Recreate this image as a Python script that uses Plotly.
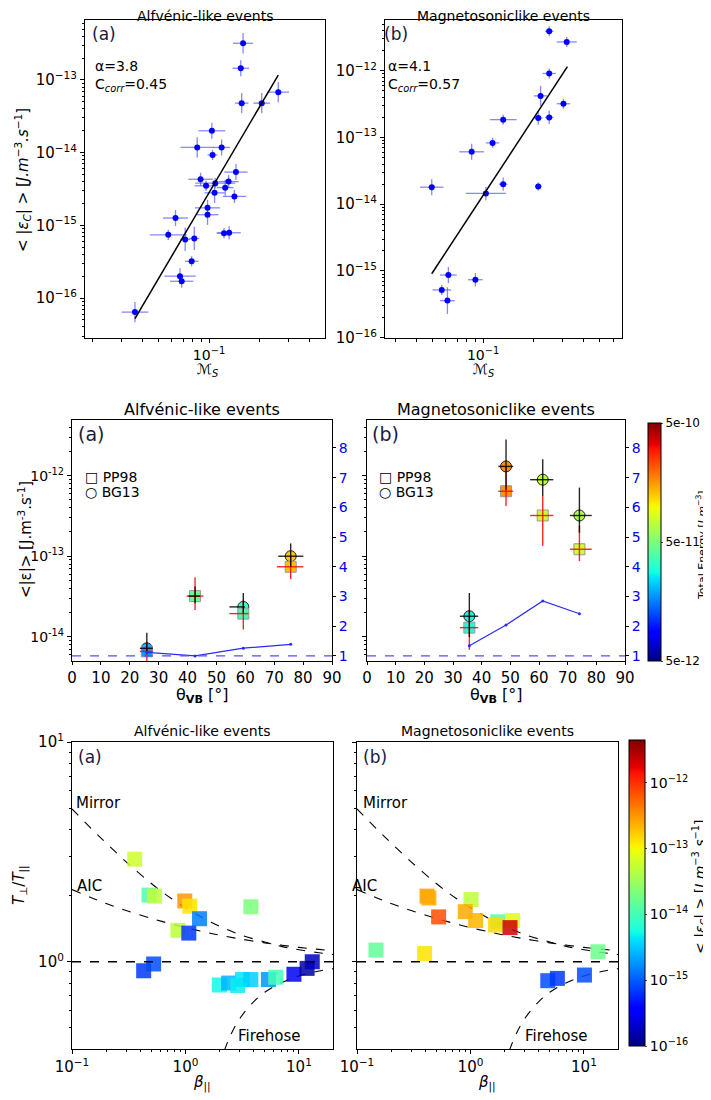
import numpy as np
import plotly.graph_objects as go

# The page body has an 8px margin; the figure is sized/offset so that it fills the window.
OFF = 8
W, H = 711 - OFF, 1100 - OFF

# ---------------- DATA ----------------
# Top row (a): Alfvenic-like events
ms_a = [0.036, 0.067, 0.0686, 0.0787, 0.057, 0.063, 0.072, 0.0816, 0.098, 0.098, 0.123, 0.132,
        0.089, 0.096, 0.108, 0.109, 0.125, 0.131, 0.142, 0.145, 0.085, 0.119, 0.105, 0.104,
        0.157, 0.155, 0.160, 0.207, 0.260]
eps_a = [6.4e-17, 2.0e-16, 1.7e-16, 3.2e-16, 7.4e-16, 1.26e-15, 6.4e-16, 6.6e-16, 1.4e-15, 1.74e-15,
         7.8e-16, 7.9e-16, 4.3e-15, 3.5e-15, 2.8e-15, 3.8e-15, 3.3e-15, 4.0e-15, 2.5e-15, 5.4e-15,
         1.18e-14, 1.18e-14, 9.3e-15, 2.0e-14, 4.8e-14, 1.45e-13, 3.2e-13, 4.8e-14, 6.8e-14]
ms_a_err_dec = [0.08, 0.094, 0.07, 0.04, 0.11, 0.075, 0.03, 0.03, 0.065, 0.075, 0.045, 0.07, 0.073,
                0.07, 0.06, 0.12, 0.05, 0.06, 0.07, 0.07, 0.10, 0.05, 0.03, 0.08, 0.04, 0.05, 0.06,
                0.05, 0.065]
eps_a_err_dec = [0.14, 0.11, 0.09, 0.07, 0.07, 0.11, 0.16, 0.16, 0.14, 0.11, 0.07, 0.09, 0.09, 0.07,
                 0.14, 0.07, 0.11, 0.09, 0.09, 0.11, 0.14, 0.11, 0.07, 0.11, 0.14, 0.11, 0.14, 0.14,
                 0.14]
fit_a_x = [0.036, 0.26]
fit_a_y = [5.2e-17, 1.17e-13]

# Top row (b): Magnetosoniclike events
ms_b = [0.0493, 0.0566, 0.062, 0.0612, 0.090, 0.0855, 0.114, 0.132, 0.104, 0.132, 0.214, 0.214,
        0.249, 0.221, 0.249, 0.303, 0.249, 0.317]
eps_b = [1.8e-14, 5.2e-16, 8.7e-16, 3.6e-16, 7.4e-16, 6.1e-14, 8.3e-14, 1.85e-13, 1.45e-14, 2.0e-14,
         1.85e-14, 1.96e-13, 2.0e-13, 4.2e-13, 9.1e-13, 3.2e-13, 3.9e-12, 2.7e-12]
ms_b_err_dec = [0.07, 0.056, 0.05, 0.044, 0.044, 0.074, 0.04, 0.08, 0.12, 0.025, 0.02, 0.025, 0.025,
                0.04, 0.04, 0.04, 0.025, 0.06]
eps_b_err_dec = [0.12, 0.075, 0.12, 0.2, 0.1, 0.12, 0.075, 0.075, 0.1, 0.1, 0.06, 0.1, 0.1, 0.15,
                 0.075, 0.075, 0.075, 0.075]
fit_b_x = [0.0493, 0.320]
fit_b_y = [9.1e-16, 1.15e-12]

# Middle row (a)
theta_a = [25.9, 42.6, 59.3, 75.7]
pp98_a = [6.6e-15, 3.2e-14, 1.94e-14, 7.4e-14]
pp98_a_lo = [5.0e-15, 2.15e-14, 1.23e-14, 5.2e-14]
pp98_a_hi = [8.7e-15, 5.5e-14, 2.9e-14, 1.02e-13]
pp98_a_th_lo = [23.5, 39.7, 54.5, 70.9]
pp98_a_th_hi = [28.0, 45.5, 61.1, 80.1]
bg13_a = [7.2e-15, 3.2e-14, 2.35e-14, 1.0e-13]
bg13_a_lo = [6.3e-15, 2.6e-14, 1.95e-14, 7.4e-14]
bg13_a_hi = [1.12e-14, 4.2e-14, 3.5e-14, 1.44e-13]
bg13_a_th_lo = [23.5, 40.3, 54.5, 71.4]
bg13_a_th_hi = [28.0, 44.3, 59.9, 80.1]
etot_pp98_a = [1.82e-11, 4.4e-11, 3.6e-11, 1.3e-10]
etot_bg13_a = [2.0e-11, 4.4e-11, 3.5e-11, 1.26e-10]
ratio_line_a = [1.12, 1.0, 1.26, 1.39]

# Middle row (b)
theta_b = [35.7, 48.5, 61.3, 74.1]
pp98_b = [1.3e-14, 6.4e-13, 3.2e-13, 1.22e-13]
pp98_b_lo = [6.9e-15, 4.2e-13, 1.35e-13, 8.7e-14]
pp98_b_hi = [2.15e-14, 1.3e-12, 5.6e-13, 2.4e-13]
bg13_b = [1.8e-14, 1.3e-12, 8.9e-13, 3.2e-13]
bg13_b_lo = [1.0e-14, 6.7e-13, 5.6e-13, 1.95e-13]
bg13_b_hi = [3.5e-14, 2.8e-12, 1.6e-12, 7.1e-13]
th_b_lo = [32.4, 45.8, 56.9, 70.8]
th_b_hi = [38.8, 51.0, 65.0, 78.4]
etot_pp98_b = [2.9e-11, 1.6e-10, 7.5e-11, 7.9e-11]
etot_bg13_b = [2.75e-11, 1.65e-10, 7.2e-11, 6.6e-11]
ratio_line_b = [1.34, 2.04, 2.85, 2.42]

# Bottom row (a)
beta_a = [0.357, 0.477, 0.535, 0.986, 1.09, 1.33, 0.857, 1.07, 3.77, 0.428, 0.524, 1.99, 2.40,
          2.88, 3.18, 3.77, 5.38, 6.24, 9.03, 11.8, 13.1]
tratio_a = [2.93, 2.01, 1.99, 1.89, 1.79, 1.57, 1.39, 1.35, 1.78, 0.91, 0.977, 0.784, 0.80, 0.78,
            0.83, 0.83, 0.83, 0.85, 0.877, 0.933, 1.0]
epsc_a = [6.2e-14, 1.2e-14, 5.0e-14, 3.1e-13, 1.3e-13, 1.45e-15, 5.0e-14, 6.9e-16, 2.1e-14,
          6.9e-16, 8.5e-16, 5.2e-15, 2.5e-15, 4.7e-15, 4.2e-15, 3.4e-15, 1.8e-15, 1.0e-14,
          2.9e-16, 1.4e-16, 1.9e-16]

# Bottom row (b)
beta_b = [0.147, 0.394, 0.414, 0.43, 0.524, 1.01, 0.90, 1.11, 1.74, 2.35, 1.66, 2.23, 13.3, 4.8,
          5.83, 10.1]
tratio_b = [1.13, 1.09, 1.99, 1.95, 1.60, 1.92, 1.69, 1.54, 1.52, 1.54, 1.47, 1.43, 1.11, 0.82,
            0.84, 0.87]
epsc_b = [1.5e-14, 1.3e-13, 2.8e-13, 2.5e-13, 7.2e-13, 5.0e-14, 2.5e-13, 2.2e-13, 1.2e-14,
          7.6e-14, 1.45e-13, 2.1e-12, 1.7e-14, 8.5e-16, 6.9e-16, 8.5e-16]

# Instability thresholds
mirror_beta = [0.1, 0.15, 0.2, 0.3, 0.5, 0.7, 1, 1.5, 2, 3, 5, 7, 10, 15, 20]
mirror_ratio = [4.96, 4.01, 3.47, 2.85, 2.27, 1.99, 1.76, 1.56, 1.45, 1.33, 1.23, 1.175, 1.134,
                1.098, 1.079]
aic_beta = [0.1, 0.15, 0.2, 0.3, 0.5, 0.7, 1, 1.5, 2, 3, 5, 7, 10, 15, 20]
aic_ratio = [2.13, 1.95, 1.84, 1.71, 1.575, 1.50, 1.43, 1.363, 1.321, 1.271, 1.219, 1.190, 1.163,
             1.138, 1.122]
fh_beta = [2.2, 2.5, 3, 4, 5, 7, 10, 15, 20]
fh_ratio = [0.394, 0.464, 0.550, 0.659, 0.726, 0.803, 0.862, 0.907, 0.930]

# ---------------- HELPERS ----------------
FONT = "DejaVu Sans"


def px(x):
    return (x - OFF) / W


def py(y):
    return 1 - (y - OFF) / H


def jet_scale():
    r = [(0, 0), (0.35, 0), (0.66, 1), (0.89, 1), (1, 0.5)]
    g = [(0, 0), (0.125, 0), (0.375, 1), (0.64, 1), (0.91, 0), (1, 0)]
    b = [(0, 0.5), (0.11, 1), (0.34, 1), (0.65, 0), (1, 0)]
    stops = sorted({p for seg in (r, g, b) for p, _ in seg})
    out = []
    for s in stops:
        ch = [np.interp(s, [p for p, _ in seg], [v for _, v in seg]) for seg in (r, g, b)]
        out.append([s, "rgb(%d,%d,%d)" % tuple(int(round(c * 255)) for c in ch)])
    return out


JET = jet_scale()


def log_err(v, d):
    v = np.array(v)
    d = np.array(d)
    return v * (10 ** d - 1), v * (1 - 10 ** (-d))


def sup(e):
    return "10<sup>%s</sup>" % (str(e).replace("-", "\u2212"))


def minor_vals(e0, e1):
    return [m * 10.0 ** e for e in range(e0, e1) for m in range(2, 10)]


fig = go.Figure()

# ---------------- TOP ROW ----------------
EB_COL = "rgba(70,70,255,0.65)"
for (xs, ys, dx, dy, fx, fy, xa, ya) in [
        (ms_a, eps_a, ms_a_err_dec, eps_a_err_dec, fit_a_x, fit_a_y, "x", "y"),
        (ms_b, eps_b, ms_b_err_dec, eps_b_err_dec, fit_b_x, fit_b_y, "x2", "y2")]:
    xp, xm = log_err(xs, dx)
    yp, ym = log_err(ys, dy)
    fig.add_trace(go.Scatter(
        x=xs, y=ys, mode="markers", xaxis=xa, yaxis=ya, showlegend=False,
        marker=dict(color="#0000ff", size=6),
        error_x=dict(type="data", symmetric=False, array=xp, arrayminus=xm,
                     color=EB_COL, thickness=1.3, width=0),
        error_y=dict(type="data", symmetric=False, array=yp, arrayminus=ym,
                     color=EB_COL, thickness=1.3, width=0)))
    fig.add_trace(go.Scatter(x=fx, y=fy, mode="lines", xaxis=xa, yaxis=ya, showlegend=False,
                             line=dict(color="black", width=1.5)))

# ---------------- MIDDLE ROW ----------------
mid_sets = [
    (theta_a, pp98_a, pp98_a_lo, pp98_a_hi, pp98_a_th_lo, pp98_a_th_hi,
     bg13_a, bg13_a_lo, bg13_a_hi, bg13_a_th_lo, bg13_a_th_hi,
     etot_pp98_a, etot_bg13_a, ratio_line_a, "x3", "y3", "y5"),
    (theta_b, pp98_b, pp98_b_lo, pp98_b_hi, th_b_lo, th_b_hi,
     bg13_b, bg13_b_lo, bg13_b_hi, th_b_lo, th_b_hi,
     etot_pp98_b, etot_bg13_b, ratio_line_b, "x4", "y4", "y6"),
]
for (th, pv, plo, phi, ptl, pth, bv, blo, bhi, btl, bth, ep, eb, rl, xa, ya, yr) in mid_sets:
    th_arr = np.array(th)
    fig.add_trace(go.Scatter(x=th, y=rl, mode="lines+markers", xaxis=xa, yaxis=yr,
                             showlegend=False, line=dict(color="#2a2aff", width=1.2),
                             marker=dict(size=3, color="#2a2aff")))
    fig.add_trace(go.Scatter(x=th, y=bv, mode="markers", xaxis=xa, yaxis=ya, showlegend=False,
                             marker=dict(symbol="circle", size=11, color=np.log10(eb),
                                         coloraxis="coloraxis",
                                         line=dict(color="#222222", width=1))))
    fig.add_trace(go.Scatter(x=th, y=pv, mode="markers", xaxis=xa, yaxis=ya, showlegend=False,
                             marker=dict(symbol="square", size=11, color=np.log10(ep),
                                         coloraxis="coloraxis",
                                         line=dict(color="#999999", width=1))))
    for (vals, lo, hi, tl, tt, col) in [(pv, plo, phi, ptl, pth, "rgba(255,0,0,0.85)"),
                                        (bv, blo, bhi, btl, bth, "rgba(0,0,0,0.85)")]:
        v = np.array(vals)
        fig.add_trace(go.Scatter(
            x=th, y=vals, mode="markers", xaxis=xa, yaxis=ya, showlegend=False,
            marker=dict(size=2, color="rgba(0,0,0,0)"),
            error_y=dict(type="data", symmetric=False, array=np.array(hi) - v,
                         arrayminus=v - np.array(lo), color=col, thickness=1.4, width=0),
            error_x=dict(type="data", symmetric=False, array=np.array(tt) - th_arr,
                         arrayminus=th_arr - np.array(tl), color=col, thickness=1.4, width=0)))

# ---------------- BOTTOM ROW ----------------
for (bx, by, ec, xa, ya) in [(beta_a, tratio_a, epsc_a, "x7", "y7"),
                             (beta_b, tratio_b, epsc_b, "x8", "y8")]:
    for (cx, cy) in [(mirror_beta, mirror_ratio), (aic_beta, aic_ratio), (fh_beta, fh_ratio)]:
        fig.add_trace(go.Scatter(x=cx, y=cy, mode="lines", xaxis=xa, yaxis=ya, showlegend=False,
                                 line=dict(color="black", width=1.1, dash="dash", shape="spline")))
    fig.add_trace(go.Scatter(x=bx, y=by, mode="markers", xaxis=xa, yaxis=ya, showlegend=False,
                             marker=dict(symbol="square", size=15, color=np.log10(ec),
                                         coloraxis="coloraxis2", opacity=0.85,
                                         line=dict(width=0))))

# ---------------- AXES ----------------
base = dict(showgrid=False, zeroline=False, showline=True, mirror=True, linecolor="black",
            linewidth=1.2, ticks="outside", ticklen=4, tickcolor="black", automargin=False,
            tickfont=dict(family=FONT, size=14, color="black"))


def ax(**kw):
    d = dict(base)
    d.update(kw)
    return d


def minor(vals, ln=2):
    return dict(tickmode="array", tickvals=vals, ticks="outside", ticklen=ln, tickcolor="black",
                showgrid=False)


top_y_vals_a = [1e-16, 1e-15, 1e-14, 1e-13]
top_y_vals_b = [1e-16, 1e-15, 1e-14, 1e-13, 1e-12]
mid_y_vals = [1e-14, 1e-13, 1e-12]
layout_axes = dict(
    xaxis=ax(domain=[px(85), px(325)], type="log", range=[-1.743, -0.305], anchor="y",
             tickmode="array", tickvals=[0.1], ticktext=[sup(-1)],
             minor=minor([v for v in minor_vals(-2, 0) if v < 0.6], 3)),
    yaxis=ax(domain=[py(338), py(20)], type="log", range=[-16.55, -12.175], anchor="x",
             tickmode="array", tickvals=top_y_vals_a, ticktext=[sup(-16), sup(-15), sup(-14), sup(-13)],
             tickfont=dict(family=FONT, size=15, color="black"),
             minor=minor(minor_vals(-17, -12), 2)),
    xaxis2=ax(domain=[px(385), px(622)], type="log", range=[-1.587, -0.168], anchor="y2",
              tickmode="array", tickvals=[0.1], ticktext=[sup(-1)],
              minor=minor([v for v in minor_vals(-2, 0) if v < 0.7], 3)),
    yaxis2=ax(domain=[py(338), py(20)], type="log", range=[-16.004, -11.24], anchor="x2",
              tickmode="array", tickvals=top_y_vals_b,
              ticktext=[sup(-16), sup(-15), sup(-14), sup(-13), sup(-12)],
              tickfont=dict(family=FONT, size=15, color="black"),
              minor=minor(minor_vals(-16, -11), 2)),
    xaxis3=ax(domain=[px(72), px(332)], range=[0, 90], anchor="y3", tickmode="array", ticklen=3,
              tickvals=list(range(0, 91, 10)), tickfont=dict(family=FONT, size=15, color="black")),
    yaxis3=ax(domain=[py(661), py(420)], type="log", range=[-14.30, -11.31], anchor="x3",
              tickmode="array", tickvals=mid_y_vals,
              ticktext=["10<sup>-14</sup>", "10<sup>-13</sup>", "10<sup>-12</sup>"],
              tickfont=dict(family=FONT, size=14, color="black"),
              minor=minor(minor_vals(-15, -11), 2)),
    xaxis4=ax(domain=[px(367), px(625)], range=[0, 90], anchor="y4", tickmode="array", ticklen=3,
              tickvals=list(range(0, 91, 10)), tickfont=dict(family=FONT, size=15, color="black")),
    yaxis4=ax(domain=[py(661), py(420)], type="log", range=[-14.30, -11.31], anchor="x4",
              tickmode="array", tickvals=mid_y_vals, showticklabels=False,
              minor=minor(minor_vals(-15, -11), 2)),
    yaxis5=dict(overlaying="y3", anchor="x3", side="right", range=[0.83, 8.94], showgrid=False,
                zeroline=False, showline=False, ticks="outside", ticklen=3, tickcolor="black",
                tickmode="array", tickvals=list(range(1, 9)), automargin=False,
                tickfont=dict(family=FONT, size=14, color="#0000ff")),
    yaxis6=dict(overlaying="y4", anchor="x4", side="right", range=[0.83, 8.94], showgrid=False,
                zeroline=False, showline=False, ticks="outside", ticklen=3, tickcolor="black",
                tickmode="array", tickvals=list(range(1, 9)), automargin=False,
                tickfont=dict(family=FONT, size=14, color="#0000ff")),
    xaxis7=ax(domain=[px(72), px(333)], type="log", range=[-1, 1.30], anchor="y7",
              tickmode="array", tickvals=[0.1, 1, 10], ticktext=[sup(-1), sup(0), sup(1)],
              tickfont=dict(family=FONT, size=15, color="black"),
              minor=minor([v for v in minor_vals(-1, 2) if v < 20], 2)),
    yaxis7=ax(domain=[py(1049), py(742)], type="log", range=[-0.397, 1], anchor="x7",
              tickmode="array", tickvals=[1, 10], ticktext=[sup(0), sup(1)],
              tickfont=dict(family=FONT, size=15, color="black"),
              minor=minor([v for v in minor_vals(-1, 1) if v > 0.39], 2)),
    xaxis8=ax(domain=[px(357), px(618)], type="log", range=[-1, 1.30], anchor="y8",
              tickmode="array", tickvals=[0.1, 1, 10], ticktext=[sup(-1), sup(0), sup(1)],
              tickfont=dict(family=FONT, size=15, color="black"),
              minor=minor([v for v in minor_vals(-1, 2) if v < 20], 2)),
    yaxis8=ax(domain=[py(1049), py(742)], type="log", range=[-0.397, 1], anchor="x8",
              tickmode="array", tickvals=[1, 10], showticklabels=False,
              minor=minor([v for v in minor_vals(-1, 1) if v > 0.39], 2)),
)

shapes = [
    dict(type="line", xref="x3 domain", x0=0, x1=1, yref="y5", y0=1, y1=1,
         line=dict(color="#5050ff", width=1.2, dash="dash")),
    dict(type="line", xref="x4 domain", x0=0, x1=1, yref="y6", y0=1, y1=1,
         line=dict(color="#5050ff", width=1.2, dash="dash")),
    dict(type="line", xref="x7 domain", x0=0, x1=1, yref="y7", y0=1, y1=1,
         line=dict(color="black", width=1.6, dash="dash")),
    dict(type="line", xref="x8 domain", x0=0, x1=1, yref="y8", y0=1, y1=1,
         line=dict(color="black", width=1.6, dash="dash")),
]

# ---------------- ANNOTATIONS ----------------
ann = []


def A(text, x, y, size=14, xa="left", ya="middle", angle=0, color="black"):
    ann.append(dict(text=text, x=px(x), y=py(y), xref="paper", yref="paper", showarrow=False,
                    xanchor=xa, yanchor=ya, textangle=angle, borderpad=0,
                    font=dict(family=FONT, size=size, color=color)))


EPSC_LABEL = ("&lt; |<i>\u03b5<sub>C</sub></i>| &gt; [<i>J.m</i><sup>\u22123</sup>"
              "<i>.s</i><sup>\u22121</sup>]")
# top
A("Alfvénic-like events", 205, 16, 14, "center")
A("Magnetosoniclike events", 503, 16, 14, "center")
A("(a)", 91, 34, 17, color="#1a1a40")
A("(b)", 383, 34, 17, color="#1a1a40")
A("\u03b1=3.8", 94, 66, 14)
A("C<sub><i>corr</i></sub>=0.45", 94, 85, 14)
A("\u03b1=4.1", 387, 66, 14)
A("C<sub><i>corr</i></sub>=0.57", 387, 85, 14)
A(EPSC_LABEL, 22, 180, 15, "center", "middle", -90)
A("\u2133<sub><i>S</i></sub>", 207, 370, 14, "center")
A("\u2133<sub><i>S</i></sub>", 483, 370, 14, "center")
# middle
A("Alfvénic-like events", 202, 409, 16, "center")
A("Magnetosoniclike events", 496, 409, 16, "center")
A("(a)", 77, 434, 19, color="#1a1a40")
A("(b)", 371, 434, 19, color="#1a1a40")
A("\u25a1 PP98", 84, 477, 14)
A("\u25cb BG13", 84, 492, 14)
A("\u25a1 PP98", 378, 477, 14)
A("\u25cb BG13", 378, 492, 14)
A("&lt;|\u03b5|&gt; [J.m<sup>-3</sup>.s<sup>-1</sup>]", 25, 540, 15, "center", "middle", -90)
A("\u03b8<sub><b>VB</b></sub> [\u00b0]", 202, 695, 16, "center")
A("\u03b8<sub><b>VB</b></sub> [\u00b0]", 496, 695, 16, "center")
A("Total Energy [<i>J.m</i><sup>\u22123</sup>]", 701, 545, 11, "center", "middle", -90)
# bottom
A("Alfvénic-like events", 202, 731, 14, "center")
A("Magnetosoniclike events", 487, 731, 14, "center")
A("(a)", 77, 757, 17, color="#1a1a40")
A("(b)", 362, 757, 17, color="#1a1a40")
A("Mirror", 75, 803, 15)
A("AIC", 76, 886, 15)
A("Firehose", 237, 1036, 15)
A("Mirror", 362, 803, 15)
A("AIC", 351, 886, 15)
A("Firehose", 524, 1036, 15)
A("<i>T</i><sub>\u22a5</sub>/<i>T</i><sub>||</sub>", 20, 885, 15, "center", "middle", -90)
A("<i>\u03b2</i><sub>||</sub>", 202, 1083, 15, "center")
A("<i>\u03b2</i><sub>||</sub>", 487, 1083, 15, "center")
A(EPSC_LABEL, 700, 887, 14, "center", "middle", -90)

# ---------------- COLOR AXES ----------------
mid_cmin, mid_cmax = np.log10(5e-12), np.log10(5e-10)
coloraxis = dict(
    colorscale=JET, cmin=mid_cmin, cmax=mid_cmax,
    colorbar=dict(x=px(648), xanchor="left", y=py(423), yanchor="top", thickness=13,
                  thicknessmode="pixels", len=238, lenmode="pixels", xpad=0, ypad=0,
                  outlinewidth=1, outlinecolor="black", ticks="outside", ticklen=2,
                  tickmode="array", tickvals=[mid_cmin, np.log10(5e-11), mid_cmax],
                  ticktext=["5e-12", "5e-11", "5e-10"],
                  tickfont=dict(family=FONT, size=12, color="black")))
coloraxis2 = dict(
    colorscale=JET, cmin=-16, cmax=-11.35,
    colorbar=dict(x=px(629), xanchor="left", y=py(740), yanchor="top", thickness=16,
                  thicknessmode="pixels", len=306, lenmode="pixels", xpad=0, ypad=0,
                  outlinewidth=1, outlinecolor="black", ticks="outside", ticklen=2,
                  tickmode="array", tickvals=[-16, -15, -14, -13, -12],
                  ticktext=[sup(-16), sup(-15), sup(-14), sup(-13), sup(-12)],
                  tickfont=dict(family=FONT, size=14, color="black")))

fig.update_layout(
    width=W, height=H, autosize=False,
    margin=dict(l=0, r=0, t=0, b=0, pad=0, autoexpand=False),
    paper_bgcolor="white", plot_bgcolor="white", showlegend=False,
    font=dict(family=FONT, size=14, color="black"),
    shapes=shapes, annotations=ann, coloraxis=coloraxis, coloraxis2=coloraxis2,
    **layout_axes)

fig.write_html("out.html")
